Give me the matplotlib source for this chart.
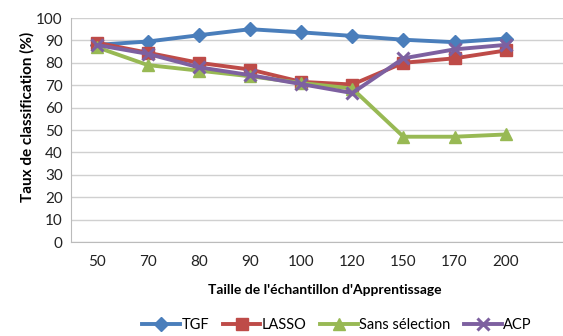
import numpy as np
import matplotlib.pyplot as plt

plt.rcParams['font.family'] = ['Lato', 'DejaVu Sans']

# Données
tailles = ['50', '70', '80', '90', '100', '120', '150', '170', '200']
tgf = [88, 89.5, 92.3, 95, 93.6, 92, 90.3, 89.2, 90.8]
lasso = [89, 84.5, 80, 77, 71.5, 70.3, 80, 82, 85.5]
sans_sel = [87, 79, 76.5, 74, 71, 68.5, 47, 47, 48]
acp = [88, 84, 78, 74.5, 70.5, 66.5, 82, 86, 88]

x = np.arange(len(tailles))

fig = plt.figure(figsize=(5.63, 3.36), dpi=100)
ax = fig.add_axes([71 / 563, 1 - 242 / 336, (563 - 71) / 563, 224 / 336])

ax.plot(x, tgf, color='#4A7EBB', lw=2.8, marker='D', ms=7, label='TGF', zorder=3)
ax.plot(x, lasso, color='#BE4B48', lw=2.8, marker='s', ms=8, label='LASSO', zorder=3)
ax.plot(x, sans_sel, color='#98B954', lw=2.8, marker='^', ms=8, label='Sans sélection', zorder=3)
ax.plot(x, acp, color='#7D60A0', lw=2.8, marker='x', ms=8, mew=2.2, label='ACP', zorder=4)

ax.set_xlim(-0.5, 9.12)
ax.set_ylim(0, 100)
ax.set_yticks(range(0, 101, 10))
ax.set_xticks(x)
ax.set_xticklabels(tailles)
ax.tick_params(axis='both', length=0, labelsize=11, colors='#222222')
ax.tick_params(axis='y', pad=6)
ax.tick_params(axis='x', pad=9)
ax.grid(axis='y', color='#D0D0D0', lw=1)
ax.set_axisbelow(True)
for s in ['top', 'right']:
    ax.spines[s].set_visible(False)
ax.spines['left'].set_color('#BBBBBB')
ax.spines['bottom'].set_color('#BBBBBB')

fig.text(325 / 563, 1 - 290 / 336, "Taille de l'échantillon d'Apprentissage",
         ha='center', va='center', fontsize=10, fontweight='bold')
fig.text(27 / 563, 1 - 117 / 336, 'Taux de classification (%)', rotation=90,
         ha='center', va='center', fontsize=11, fontweight='bold')

fig.legend(loc='center', bbox_to_anchor=(337 / 563, 1 - 325 / 336), ncol=4,
           frameon=False, fontsize=10.5, handlelength=2.6, columnspacing=0.9,
           handletextpad=0.1)

fig.savefig('out.png', dpi=100)
